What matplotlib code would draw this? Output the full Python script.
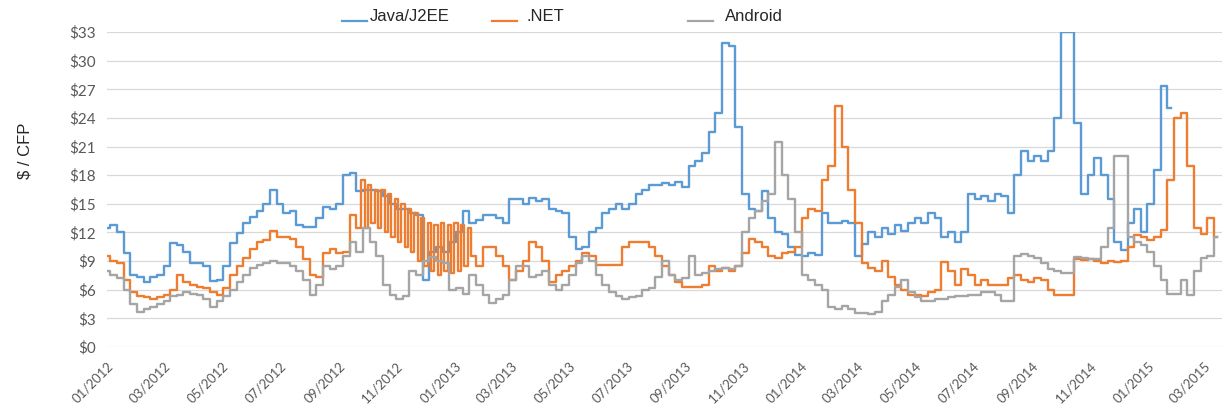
import matplotlib
matplotlib.use("Agg")
import matplotlib.pyplot as plt
import matplotlib.dates as mdates
from matplotlib.lines import Line2D
import pandas as pd

BLUE, ORANGE, GREY = "#5B9BD5", "#ED7D31", "#A5A5A5"
TXT, GRID = "#595959", "#D9D9D9"

# weekly samples from 2012-01-01, $ per CFP
start = "2012-01-01"
java = [12.5, 12.8, 12.0, 9.8, 7.5, 7.3, 6.8, 7.3, 7.5, 8.5,
        10.9, 10.7, 10.0, 8.8, 8.8, 8.5, 6.9, 7.0, 8.5, 10.9,
        11.9, 13.0, 13.6, 14.3, 15.0, 16.4, 15.0, 14.0, 14.2, 12.8,
        12.6, 12.6, 13.5, 14.7, 14.5, 15.0, 18.0, 18.2, 16.3, 16.5,
        16.5, 16.3, 15.8, 15.0, 14.5, 14.5, 14.0, 13.8, 7.0, 10.0,
        10.5, 10.0, 11.0, 12.0, 14.3, 13.0, 13.3, 13.8, 13.8, 13.5,
        13.0, 15.5, 15.5, 15.0, 15.6, 15.3, 15.5, 14.5, 14.3, 14.0,
        11.5, 10.3, 10.5, 12.0, 12.5, 14.0, 14.5, 15.0, 14.5, 15.0,
        16.0, 16.5, 17.0, 17.0, 17.2, 17.0, 17.3, 16.8, 19.0, 19.5,
        20.3, 22.5, 24.5, 31.8, 31.5, 23.0, 16.0, 14.5, 14.2, 16.3,
        13.5, 12.0, 11.8, 10.5, 9.6, 9.5, 9.8, 9.6, 14.0, 13.0,
        13.0, 13.2, 13.0, 9.5, 10.8, 12.0, 11.5, 12.5, 11.8, 12.8,
        12.2, 13.0, 13.5, 13.0, 14.0, 13.5, 11.5, 12.0, 11.0, 12.0,
        16.0, 15.5, 15.8, 15.3, 16.0, 15.8, 14.0, 18.0, 20.5, 19.5,
        20.0, 19.5, 20.5, 24.0, 33.0, 33.0, 23.5, 16.0, 18.0, 19.8,
        18.0, 15.5, 11.0, 10.2, 13.0, 14.5, 12.0, 15.0, 18.5, 27.3,
        25.0]

# .NET: weekly to mid Oct 2012, half-weekly through the saw-tooth stretch, weekly again from week 55
net_a = [9.5, 9.0, 8.8, 7.0, 5.8, 5.3, 5.2, 5.0, 5.2, 5.5,
         6.0, 7.5, 6.8, 6.5, 6.3, 6.2, 5.8, 5.5, 6.2, 7.5,
         8.5, 9.3, 10.3, 11.0, 11.2, 12.2, 11.5, 11.5, 11.3, 10.5,
         9.2, 7.5, 7.3, 9.8, 10.3, 9.8, 10.0, 13.8, 12.5]
net_zz = [17.5, 12.5, 17.0, 13.0, 16.5, 12.5, 16.5, 12.0, 16.0, 11.5,
          15.5, 11.0, 15.0, 10.5, 14.5, 10.0, 14.0, 9.0, 13.5, 8.5,
          13.0, 8.0, 12.8, 7.5, 13.0, 8.0, 12.8, 7.8, 13.0, 8.0,
          12.8, 8.5, 12.5]
net_b = [9.5, 8.5, 10.5, 10.5, 9.5, 8.5, 7.0, 8.0, 9.0, 11.0,
         10.5, 9.0, 6.8, 7.5, 8.0, 8.5, 9.0, 9.8, 9.5, 8.6,
         8.6, 8.6, 8.6, 10.5, 11.0, 11.0, 11.0, 10.5, 9.5, 8.5,
         7.5, 6.8, 6.3, 6.3, 6.3, 6.5, 8.5, 8.0, 8.3, 8.0,
         8.5, 9.8, 11.3, 11.0, 10.5, 9.5, 9.3, 9.8, 10.0, 10.5,
         13.5, 14.5, 14.3, 17.5, 19.0, 25.3, 21.0, 16.5, 13.0, 8.8,
         8.3, 8.0, 9.0, 7.3, 6.5, 6.0, 5.5, 5.4, 5.3, 5.8,
         6.0, 8.9, 8.0, 6.5, 8.2, 7.5, 6.5, 7.0, 6.5, 6.5,
         6.5, 7.2, 7.5, 7.0, 6.8, 7.2, 7.0, 6.0, 5.5, 5.4,
         5.5, 9.2, 9.1, 9.2, 9.0, 8.8, 9.0, 8.9, 9.0, 10.5,
         11.7, 11.5, 11.2, 11.5, 12.3, 17.5, 24.0, 24.5, 19.0, 12.5,
         11.8, 13.5, 11.5]

android = [8.0, 7.5, 7.2, 6.0, 4.5, 3.7, 4.0, 4.2, 4.5, 4.8,
           5.3, 5.5, 5.8, 5.6, 5.4, 5.0, 4.2, 4.8, 5.3, 6.0,
           6.8, 7.5, 8.3, 8.6, 8.8, 9.0, 8.8, 8.8, 8.5, 8.0,
           7.0, 5.5, 6.5, 8.5, 8.2, 8.5, 9.5, 11.0, 10.0, 12.5,
           11.0, 9.5, 6.5, 5.5, 5.0, 5.3, 8.0, 7.5, 9.0, 9.4,
           9.0, 8.8, 6.0, 6.2, 5.6, 7.5, 6.5, 5.5, 4.6, 5.0,
           5.5, 7.0, 8.5, 8.5, 7.3, 7.5, 8.0, 6.5, 6.0, 6.5,
           7.5, 8.8, 9.5, 9.0, 7.5, 6.5, 5.8, 5.3, 5.0, 5.2,
           5.3, 6.0, 6.2, 7.3, 9.0, 7.5, 7.0, 7.2, 9.5, 7.5,
           7.8, 8.0, 8.2, 8.3, 8.2, 8.5, 12.0, 13.5, 14.2, 15.3,
           16.0, 21.5, 18.0, 15.5, 12.0, 7.5, 7.0, 6.5, 6.0, 4.2,
           4.0, 4.3, 4.0, 3.6, 3.6, 3.5, 3.7, 4.8, 5.5, 6.3,
           7.0, 5.8, 5.2, 4.8, 4.8, 5.0, 5.0, 5.2, 5.3, 5.3,
           5.5, 5.5, 5.8, 5.8, 5.5, 4.8, 4.8, 9.5, 9.7, 9.5,
           9.3, 8.8, 8.2, 8.0, 7.8, 7.8, 9.4, 9.3, 9.2, 9.2,
           10.5, 12.5, 20.0, 20.0, 11.5, 11.0, 10.7, 10.0, 8.5, 7.0,
           5.6, 5.6, 7.0, 5.5, 8.0, 9.3, 9.5, 11.5]

weeks = pd.date_range(start, periods=len(android), freq="7D")
java_x = weeks[:len(java)]
zz_start = weeks[len(net_a) - 1] + pd.Timedelta(hours=84)
net_x = (list(weeks[:len(net_a)]) + list(pd.date_range(zz_start, periods=len(net_zz), freq="84h"))
         + list(weeks[len(weeks) - len(net_b):]))
net = net_a + net_zz + net_b

fig = plt.figure(figsize=(12.31, 4.12), dpi=100)
ax = fig.add_axes([107 / 1231, 65 / 412, 1115 / 1231, 315 / 412])

# the source is daily data that moves in steps: plateaus with vertical jumps
ax.plot(java_x, java, color=BLUE, lw=1.7, drawstyle="steps-mid", label="Java/J2EE")
ax.plot(net_x, net, color=ORANGE, lw=1.7, drawstyle="steps-mid", label=".NET")
ax.plot(weeks, android, color=GREY, lw=1.7, drawstyle="steps-mid", label="Android")

ax.set_xlim(pd.Timestamp("2012-01-01"), pd.Timestamp("2015-03-20"))
ax.set_ylim(0, 33)
ax.set_yticks(range(0, 34, 3))
ax.set_yticklabels([f"${v}" for v in range(0, 34, 3)], fontsize=11, color=TXT, family="Lato")
ax.xaxis.set_major_locator(mdates.MonthLocator(bymonth=[1, 3, 5, 7, 9, 11]))
ax.xaxis.set_major_formatter(mdates.DateFormatter("%m/%Y"))
for t in ax.get_xticklabels():
    t.set_rotation(45)
    t.set_ha("right")
    t.set_va("top")
    t.set_rotation_mode("anchor")
    t.set_fontsize(9.5)
    t.set_color(TXT)
    t.set_family("Lato")
ax.tick_params(length=0, pad=8)
ax.tick_params(axis="x", pad=9)
ax.grid(axis="y", color=GRID, lw=0.9)
ax.set_axisbelow(True)
for s in ax.spines.values():
    s.set_visible(False)

fig.text(25 / 1231, 1 - 151 / 412, "$ / CFP", rotation=90, ha="center", va="center",
         fontsize=12, color="#262626", family="Liberation Sans")

# legend drawn by hand: uneven gaps and the sample line sits on the baseline
for x0, x1, tx, col, lab in [(342, 367, 370, BLUE, "Java/J2EE"), (492, 517, 527, ORANGE, ".NET"),
                             (688, 713, 725, GREY, "Android")]:
    fig.add_artist(Line2D([x0 / 1231, x1 / 1231], [1 - 21 / 412] * 2, color=col, lw=1.6))
    fig.text(tx / 1231, 1 - 21 / 412, lab, ha="left", va="baseline", fontsize=12,
             color="#262626", family="Liberation Sans")

fig.savefig("out.png", dpi=100, facecolor="white")
